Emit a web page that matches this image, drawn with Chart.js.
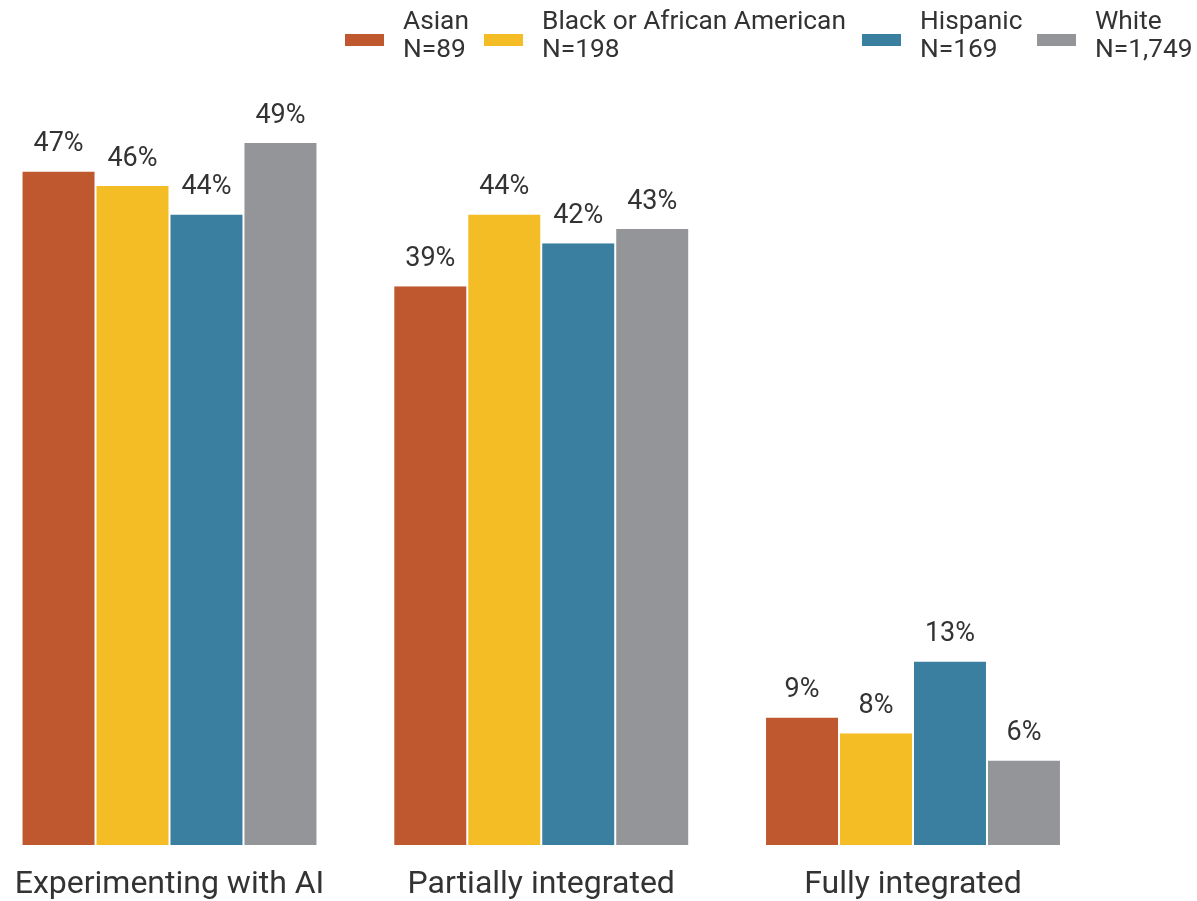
<!DOCTYPE html>
<html lang="en">
<head>
    <meta charset="UTF-8">
    <title>AI integration by race</title>
    <script src="https://cdn.jsdelivr.net/npm/chart.js"></script>
    <style>
        body { margin: 0; background: #fff; font-family: Roboto, sans-serif; color: #333; }
        #wrap { position: relative; width: 1197px; height: 901px; overflow: hidden; }
        .item { position: absolute; top: 6px; display: flex; align-items: flex-start; white-space: nowrap; }
        .sw { width: 39px; height: 12px; margin-top: 28px; margin-right: 19px; flex-shrink: 0; }
        .txt { font-size: 26.3px; line-height: 28px; }
    </style>
</head>
<body>
    <div id="wrap">
        <canvas id="chart" width="1197" height="901"></canvas>
    </div>

    <script>
        const categories = ['Experimenting with AI', 'Partially integrated', 'Fully integrated'];
        const groups = ['Asian', 'Black or African American', 'Hispanic', 'White'];
        const sampleSizes = ['N=89', 'N=198', 'N=169', 'N=1,749'];
        const colors = ['#C0582F', '#F5BD25', '#3A7EA0', '#949598'];

        const asian = [47, 39, 8.9];
        const black = [46, 44, 7.8];
        const hispanic = [44, 42, 12.8];
        const white = [49, 43, 5.9];
        const series = [asian, black, hispanic, white];

        // legend as html, built from the same arrays
        const legendLeft = [345, 484, 862, 1037];
        const wrap = document.getElementById('wrap');
        groups.forEach((g, i) => {
            const item = document.createElement('div');
            item.className = 'item';
            item.style.left = legendLeft[i] + 'px';
            item.innerHTML = '<div class="sw" style="background:' + colors[i] + '"></div>' +
                '<div class="txt">' + g + '<br>' + sampleSizes[i] + '</div>';
            wrap.appendChild(item);
        });

        const valueLabels = {
            id: 'valueLabels',
            afterDatasetsDraw(chart) {
                const ctx = chart.ctx;
                ctx.save();
                ctx.font = '27px Roboto';
                ctx.fillStyle = '#333';
                ctx.textAlign = 'center';
                ctx.textBaseline = 'middle';
                chart.data.datasets.forEach((ds, i) => {
                    chart.getDatasetMeta(i).data.forEach((bar, j) => {
                        ctx.fillText(Math.round(ds.data[j]) + '%', bar.x, bar.y - 27);
                    });
                });
                ctx.restore();
            }
        };

        new Chart(document.getElementById('chart').getContext('2d'), {
            type: 'bar',
            data: {
                labels: categories,
                datasets: series.map((d, i) => ({
                    label: groups[i],
                    data: d,
                    backgroundColor: colors[i],
                    borderColor: '#fff',
                    borderWidth: { left: 1, right: 1, top: 0, bottom: 0 },
                    borderSkipped: false,
                    categoryPercentage: 0.796,
                    barPercentage: 1,
                    clip: false
                }))
            },
            options: {
                responsive: false,
                animation: false,
                layout: { padding: { left: 169.5, right: 284, top: 57, bottom: -24.4 } },
                plugins: { legend: { display: false }, tooltip: { enabled: false } },
                scales: {
                    x: {
                        offset: false,
                        grid: { display: false, drawTicks: false },
                        border: { display: false },
                        ticks: { font: { family: 'Roboto', size: 32 }, color: '#333', padding: 21, maxRotation: 0 },
                        afterFit(scale) {
                            scale.paddingLeft = 0;
                            scale.paddingRight = 0;
                        }
                    },
                    y: {
                        display: false,
                        min: 0,
                        max: 55
                    }
                }
            },
            plugins: [valueLabels]
        });
    </script>
</body>
</html>
